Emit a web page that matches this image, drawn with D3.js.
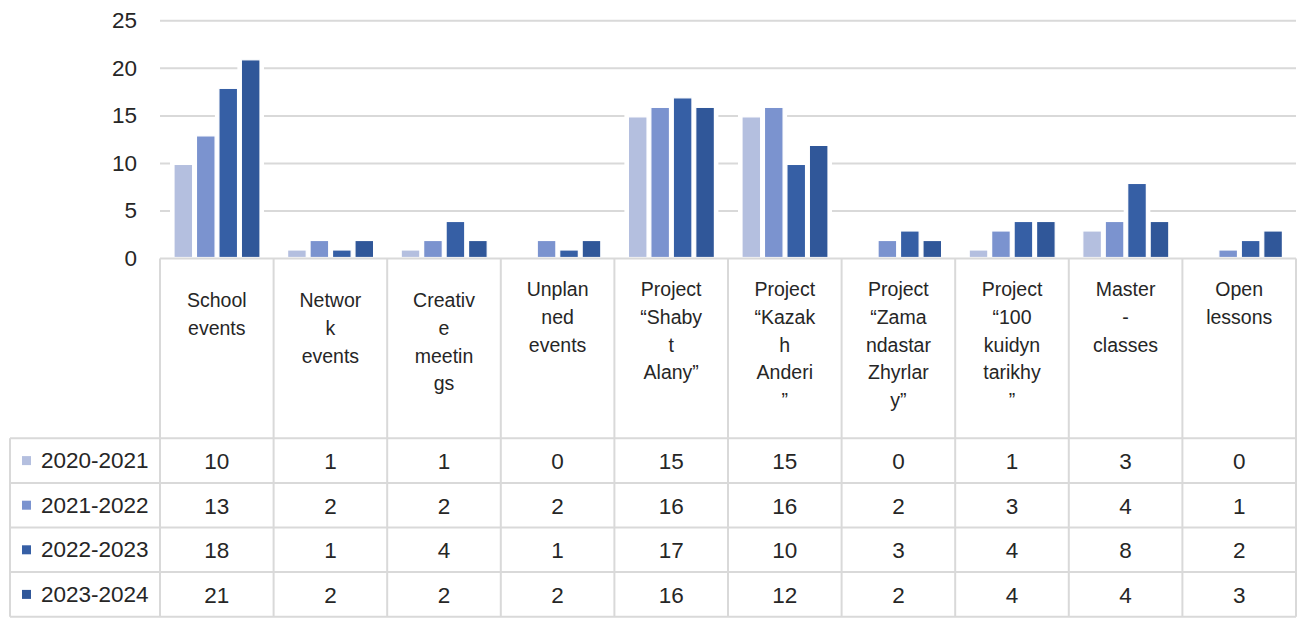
<!DOCTYPE html>
<html><head><meta charset="utf-8">
<script src="https://cdn.jsdelivr.net/npm/d3@7"></script>
<style>body{margin:0;background:#fff}svg{display:block}text{font-family:"Liberation Sans",Arial,sans-serif;fill:#262626}</style>
</head><body>
<svg id="c" width="1297" height="618"></svg>
<script>
const categories = ["School events","Network events","Creative meetings","Unplanned events","Project “Shabyt Alany”","Project “Kazakh Anderi”","Project “Zamandastar Zhyrlary”","Project “100 kuidyn tarikhy”","Master-classes","Open lessons"];
const categoryLines = [
  ["School","events"],
  ["Networ","k","events"],
  ["Creativ","e","meetin","gs"],
  ["Unplan","ned","events"],
  ["Project","“Shaby","t","Alany”"],
  ["Project","“Kazak","h","Anderi","”"],
  ["Project","“Zama","ndastar","Zhyrlar","y”"],
  ["Project","“100","kuidyn","tarikhy","”"],
  ["Master","-","classes"],
  ["Open","lessons"]
];
const seriesNames = ["2020-2021","2021-2022","2022-2023","2023-2024"];
const v2020 = [10,1,1,0,15,15,0,1,3,0];
const v2021 = [13,2,2,2,16,16,2,3,4,1];
const v2022 = [18,1,4,1,17,10,3,4,8,2];
const v2023 = [21,2,2,2,16,12,2,4,4,3];
const seriesValues = [v2020,v2021,v2022,v2023];
const colors = ["#b4bfdf","#7b93cf","#365fa5","#305799"];
const yTicks = [0,5,10,15,20,25];

const svg = d3.select("#c");
const L = 160, R = 1296, Y0 = 258.5, Y25 = 20.8;
const tableTop = 438.3, rowH = 44.6, tableLeft = 10;
const grid = "#d9d9d9";

const y = d3.scaleLinear().domain([0,25]).range([Y0,Y25]);
const x0 = d3.scaleBand().domain(categories).range([L,R]).padding(0);
const x1 = d3.scaleBand().domain(seriesNames).range([14, x0.bandwidth()-13.6]).paddingInner(0.17);

// gridlines
svg.append("g").selectAll("line").data(yTicks.filter(t=>t>0)).join("line")
  .attr("x1",L).attr("x2",R).attr("y1",d=>y(d)).attr("y2",d=>y(d))
  .attr("stroke",grid).attr("stroke-width",2);

// y tick labels
svg.append("g").selectAll("text").data(yTicks).join("text")
  .attr("x",137).attr("y",d=>y(d)).attr("text-anchor","end")
  .attr("dominant-baseline","central").style("font-size","22.5px").text(d=>d);

// bars
const barData = [];
categories.forEach((c,i)=>seriesValues.forEach((vals,s)=>barData.push({c, s, name:seriesNames[s], v:vals[i]})));
const nz = barData.filter(d=>d.v>0);
svg.append("g").selectAll("rect").data(nz).join("rect")
  .attr("x",d=>x0(d.c)+x1(d.name)-4).attr("width",x1.bandwidth()+8)
  .attr("y",d=>y(d.v)-4).attr("height",d=>Y0-1-(y(d.v)-4))
  .attr("fill","#fff");
svg.append("g").selectAll("rect").data(nz).join("rect")
  .attr("x",d=>x0(d.c)+x1(d.name)).attr("width",x1.bandwidth())
  .attr("y",d=>y(d.v)+1).attr("height",d=>Y0-1-(y(d.v)+1))
  .attr("fill",d=>colors[d.s]).attr("stroke","#fff").attr("stroke-width",1.2);

// zero line
svg.append("line").attr("x1",L).attr("x2",R).attr("y1",Y0).attr("y2",Y0)
  .attr("stroke",grid).attr("stroke-width",2);

// table lines
const tableBottom = tableTop + rowH*4;
const vx = d3.range(categories.length+1).map(i=> i<categories.length ? x0(categories[i]) : R);
svg.append("g").selectAll("line").data(vx).join("line")
  .attr("x1",d=>d).attr("x2",d=>d).attr("y1",Y0).attr("y2",tableBottom)
  .attr("stroke",grid).attr("stroke-width",2);
svg.append("line").attr("x1",tableLeft).attr("x2",tableLeft).attr("y1",tableTop).attr("y2",tableBottom)
  .attr("stroke",grid).attr("stroke-width",2);
svg.append("g").selectAll("line").data(d3.range(5)).join("line")
  .attr("x1",tableLeft).attr("x2",R).attr("y1",i=>tableTop+i*rowH).attr("y2",i=>tableTop+i*rowH)
  .attr("stroke",grid).attr("stroke-width",2);

// category labels
const cg = svg.append("g");
categories.forEach((c,i)=>{
  const cx = x0(c)+x0.bandwidth()/2;
  const base = i<3 ? 307 : 296;
  const t = cg.append("text").attr("text-anchor","middle").style("font-size","19.5px");
  categoryLines[i].forEach((ln,k)=>t.append("tspan").attr("x",cx).attr("y",base+k*27.8).text(ln));
});

// table rows
seriesNames.forEach((s,si)=>{
  const cy = tableTop + rowH*si + rowH/2;
  svg.append("rect").attr("x",22).attr("y",cy-4.5).attr("width",9).attr("height",9).attr("fill",colors[si]);
  svg.append("text").attr("x",41).attr("y",cy).attr("dominant-baseline","central")
    .style("font-size","22.5px").text(s);
  svg.append("g").selectAll("text").data(seriesValues[si]).join("text")
    .attr("x",(d,i)=>x0(categories[i])+x0.bandwidth()/2).attr("y",cy+1)
    .attr("text-anchor","middle").attr("dominant-baseline","central")
    .style("font-size","22.5px").text(d=>d);
});
</script>
</body></html>
